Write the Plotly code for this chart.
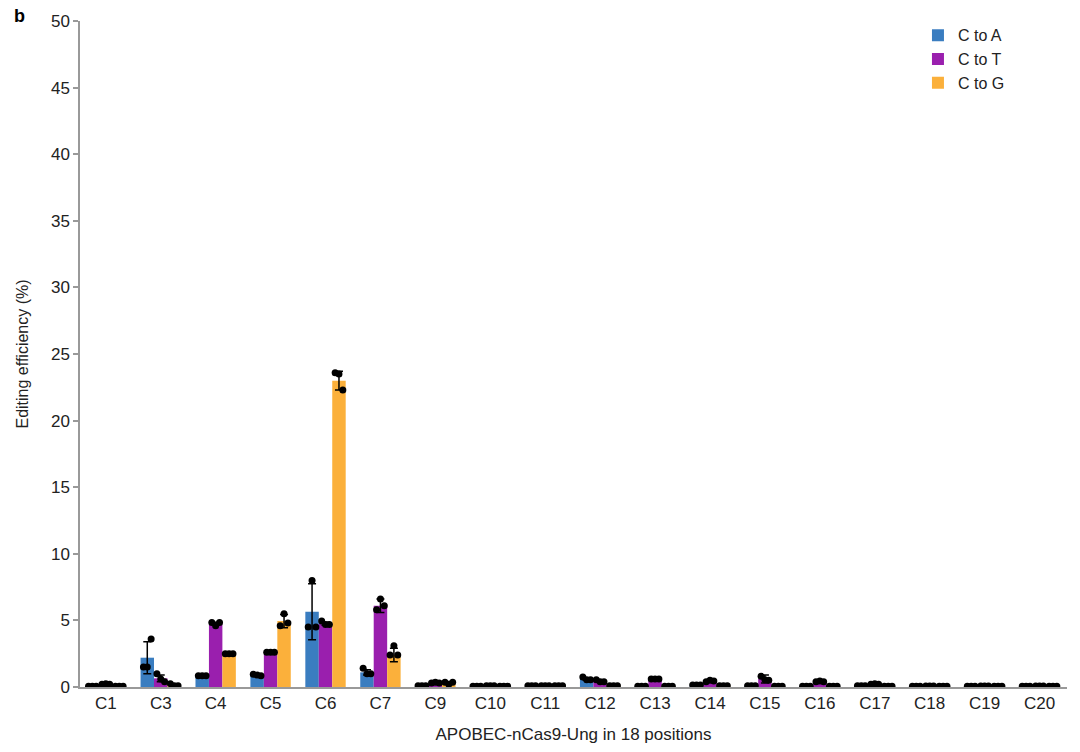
import numpy as np
import plotly.graph_objects as go

categories = ["C1", "C3", "C4", "C5", "C6", "C7", "C9", "C10", "C11", "C12",
              "C13", "C14", "C15", "C16", "C17", "C18", "C19", "C20"]

c_to_a = [0.05, 2.2, 0.85, 0.9, 5.65, 1.1, 0.1, 0.05, 0.1, 0.6,
          0.05, 0.15, 0.1, 0.05, 0.1, 0.05, 0.05, 0.05]
c_to_t = [0.2, 0.65, 4.75, 2.6, 4.75, 6.1, 0.3, 0.1, 0.1, 0.45,
          0.6, 0.45, 0.6, 0.4, 0.2, 0.08, 0.08, 0.08]
c_to_g = [0.05, 0.15, 2.5, 4.95, 23.0, 2.4, 0.3, 0.05, 0.1, 0.1,
          0.05, 0.1, 0.05, 0.05, 0.05, 0.05, 0.05, 0.05]

c_to_a_sd = [0.02, 1.2, 0.05, 0.05, 2.1, 0.2, 0.02, 0.02, 0.02, 0.1,
             0.02, 0.03, 0.03, 0.02, 0.02, 0.02, 0.02, 0.02]
c_to_t_sd = [0.03, 0.25, 0.12, 0.05, 0.12, 0.5, 0.05, 0.1, 0.03, 0.05,
             0.05, 0.05, 0.3, 0.05, 0.1, 0.1, 0.15, 0.15]
c_to_g_sd = [0.02, 0.07, 0.05, 0.5, 0.7, 0.5, 0.05, 0.02, 0.02, 0.02,
             0.02, 0.02, 0.02, 0.02, 0.02, 0.02, 0.02, 0.02]

# replicate points (three per bar)
c_to_a_reps = [[0.05, 0.05, 0.05], [1.5, 1.5, 3.6], [0.85, 0.85, 0.85], [0.95, 0.9, 0.85],
               [4.5, 8.0, 4.5], [1.4, 1.0, 1.0], [0.1, 0.1, 0.1], [0.05, 0.05, 0.05],
               [0.1, 0.1, 0.1], [0.75, 0.55, 0.55], [0.05, 0.05, 0.05], [0.15, 0.15, 0.15],
               [0.1, 0.1, 0.1], [0.05, 0.05, 0.05], [0.1, 0.1, 0.1], [0.05, 0.05, 0.05],
               [0.05, 0.05, 0.05], [0.05, 0.05, 0.05]]
c_to_t_reps = [[0.2, 0.25, 0.2], [1.0, 0.6, 0.4], [4.85, 4.6, 4.85], [2.6, 2.6, 2.6],
               [4.95, 4.7, 4.7], [5.8, 6.6, 6.1], [0.3, 0.35, 0.3], [0.1, 0.1, 0.1],
               [0.1, 0.1, 0.1], [0.55, 0.4, 0.4], [0.6, 0.6, 0.6], [0.4, 0.5, 0.45],
               [0.8, 0.55, 0.5], [0.4, 0.45, 0.4], [0.2, 0.25, 0.2], [0.08, 0.08, 0.08],
               [0.08, 0.08, 0.08], [0.08, 0.08, 0.08]]
c_to_g_reps = [[0.05, 0.05, 0.05], [0.25, 0.1, 0.1], [2.5, 2.5, 2.5], [4.6, 5.5, 4.8],
               [23.6, 23.5, 22.3], [2.4, 3.1, 2.4], [0.35, 0.2, 0.35], [0.05, 0.05, 0.05],
               [0.1, 0.1, 0.1], [0.1, 0.1, 0.1], [0.05, 0.05, 0.05], [0.1, 0.1, 0.1],
               [0.05, 0.05, 0.05], [0.05, 0.05, 0.05], [0.05, 0.05, 0.05], [0.05, 0.05, 0.05],
               [0.05, 0.05, 0.05], [0.05, 0.05, 0.05]]

series = [
    ("C to A", c_to_a, c_to_a_sd, c_to_a_reps, "#3a7dc0"),
    ("C to T", c_to_t, c_to_t_sd, c_to_t_reps, "#9a1fae"),
    ("C to G", c_to_g, c_to_g_sd, c_to_g_reps, "#fbb03b"),
]

idx = np.arange(len(categories))
bar_w = 0.245
jitter = [-0.07, 0.0, 0.07]

fig = go.Figure()
for k, (name, vals, sd, reps, color) in enumerate(series):
    xpos = idx + (k - 1) * bar_w
    fig.add_trace(go.Bar(
        x=xpos, y=vals, width=bar_w, name=name,
        marker=dict(color=color, line=dict(width=0)),
        error_y=dict(type="data", array=sd, color="black", thickness=1.5, width=4),
    ))
for k, (name, vals, sd, reps, color) in enumerate(series):
    xs, ys = [], []
    for i, r in enumerate(reps):
        for j, v in enumerate(r):
            xs.append(idx[i] + (k - 1) * bar_w + jitter[j])
            ys.append(v)
    fig.add_trace(go.Scatter(
        x=xs, y=ys, mode="markers", showlegend=False,
        marker=dict(color="black", size=7),
        hoverinfo="skip",
    ))

font = "Liberation Sans, Arial, sans-serif"
fig.update_layout(
    width=1080, height=752,
    margin=dict(l=80, r=13, t=21, b=65),
    plot_bgcolor="white", paper_bgcolor="white",
    font=dict(family=font, size=16, color="#222"),
    barmode="overlay",
    legend=dict(x=0.849, y=1.004, xanchor="left", yanchor="top",
                font=dict(size=16, color="#222"), tracegroupgap=0,
                itemsizing="constant", bgcolor="rgba(0,0,0,0)"),
    xaxis=dict(
        range=[-0.47, 17.5], tickmode="array", tickvals=idx, ticktext=categories,
        showgrid=False, zeroline=False, showline=True, linecolor="#999", linewidth=1.5,
        ticks="", tickfont=dict(size=17, color="#222"),
        title=dict(text="APOBEC-nCas9-Ung in 18 positions", font=dict(size=17, color="#222"), standoff=16),
    ),
    yaxis=dict(
        range=[0, 50], dtick=5, showgrid=False, zeroline=False,
        showline=True, linecolor="#999", linewidth=1.5,
        ticks="outside", ticklen=5, tickcolor="#999", tickwidth=1.5,
        tickfont=dict(size=17, color="#222"),
        title=dict(text="Editing efficiency (%)", font=dict(size=16, color="#222"), standoff=18),
    ),
    annotations=[dict(text="<b>b</b>", xref="paper", yref="paper", x=-0.069, y=1.025,
                      xanchor="left", yanchor="top", showarrow=False,
                      font=dict(size=18, color="black", family=font))],
)

fig.write_html("out.html")
